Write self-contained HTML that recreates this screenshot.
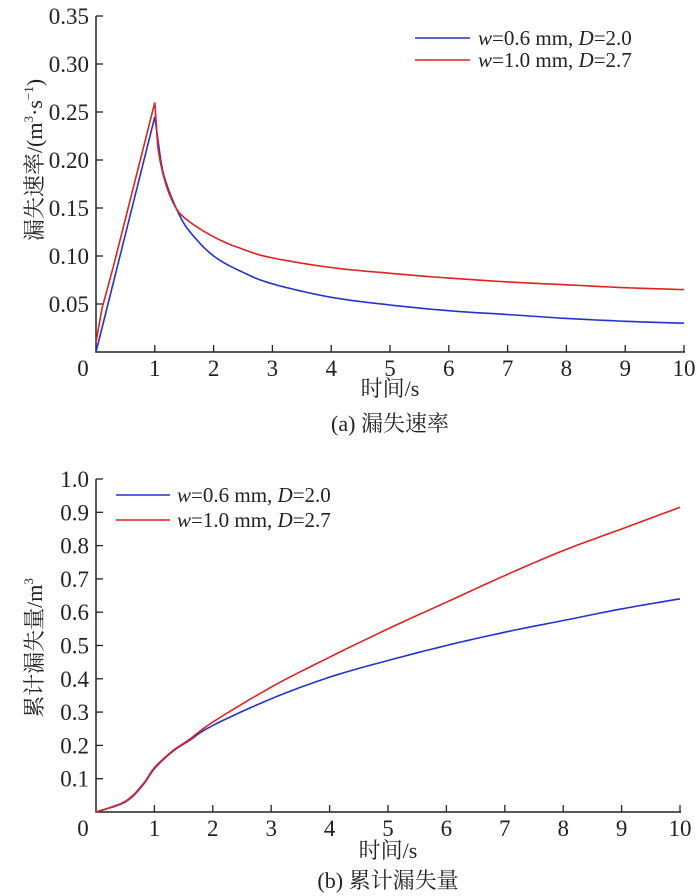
<!DOCTYPE html>
<html><head><meta charset="utf-8"><style>
body{margin:0;background:#fff}
svg{display:block}
text{font-family:"Liberation Serif","Noto Serif CJK SC",serif;font-size:22px;fill:#222}
.tk{font-size:23px}
.lg{font-size:21px}
</style></head><body>
<svg id="s" width="700" height="896" xmlns="http://www.w3.org/2000/svg">
<g stroke="#222" stroke-width="1.5" fill="none">
<path d="M96,16 V352 H685"/>
<path d="M96,479 V812 H681"/>
</g>
<g id="ticks" stroke="#222" stroke-width="1.3"></g>
<g id="labels"></g>
<g fill="none" stroke-width="1.6">
<path id="b1" stroke="#2233cc"/><path id="r1" stroke="#dd2222"/>
<path id="b2" stroke="#2233cc"/><path id="r2" stroke="#dd2222"/>
</g>
<line x1="415" y1="38" x2="470" y2="38" stroke="#2233cc" stroke-width="1.6"/>
<line x1="415" y1="60" x2="470" y2="60" stroke="#dd2222" stroke-width="1.6"/>
<text class="lg" x="478" y="45"><tspan font-style="italic">w</tspan>=0.6 mm, <tspan font-style="italic">D</tspan>=2.0</text>
<text class="lg" x="478" y="67"><tspan font-style="italic">w</tspan>=1.0 mm, <tspan font-style="italic">D</tspan>=2.7</text>
<line x1="116" y1="495" x2="170" y2="495" stroke="#2233cc" stroke-width="1.6"/>
<line x1="116" y1="520" x2="170" y2="520" stroke="#dd2222" stroke-width="1.6"/>
<text class="lg" x="177" y="502"><tspan font-style="italic">w</tspan>=0.6 mm, <tspan font-style="italic">D</tspan>=2.0</text>
<text class="lg" x="177" y="527"><tspan font-style="italic">w</tspan>=1.0 mm, <tspan font-style="italic">D</tspan>=2.7</text>
<text x="390" y="396" text-anchor="middle">时间/s</text>
<text x="390" y="431" text-anchor="middle">(a) 漏失速率</text>
<text x="388" y="858" text-anchor="middle">时间/s</text>
<text x="388" y="888" text-anchor="middle">(b) 累计漏失量</text>
<text transform="translate(42,160) rotate(-90)" text-anchor="middle">漏失速率/(m<tspan font-size="13" dy="-9">3</tspan><tspan dy="9">·s</tspan><tspan font-size="13" dy="-9">−1</tspan><tspan dy="9">)</tspan></text>
<text transform="translate(42,648) rotate(-90)" text-anchor="middle">累计漏失量/m<tspan font-size="13" dy="-9">3</tspan></text>
</svg>
<script>
var NS="http://www.w3.org/2000/svg";
function el(p,t,a,txt){var e=document.createElementNS(NS,t);for(var k in a)e.setAttribute(k,a[k]);if(txt!==undefined)e.textContent=txt;document.getElementById(p).appendChild(e);}
var X1=function(t){return 96+t*58.8},Y1=function(v){return 352-v*960};
var X2=function(t){return 96+t*58.4},Y2=function(v){return 812-v*333};
for(var i=1;i<=10;i++){el("ticks","line",{x1:X1(i),x2:X1(i),y1:352,y2:345});el("labels","text",{"class":"tk",x:X1(i),y:376,"text-anchor":"middle"},i);
el("ticks","line",{x1:X2(i),x2:X2(i),y1:812,y2:805});el("labels","text",{"class":"tk",x:X2(i),y:836,"text-anchor":"middle"},i);}
el("labels","text",{"class":"tk",x:83,y:376,"text-anchor":"middle"},0);
el("labels","text",{"class":"tk",x:83,y:836,"text-anchor":"middle"},0);
for(var i=1;i<=7;i++){var v=i*0.05;el("ticks","line",{x1:96,x2:103,y1:Y1(v),y2:Y1(v)});el("labels","text",{"class":"tk",x:89,y:Y1(v)+8,"text-anchor":"end"},v.toFixed(2));}
for(var i=1;i<=10;i++){var v=i*0.1;el("ticks","line",{x1:96,x2:103,y1:Y2(v),y2:Y2(v)});el("labels","text",{"class":"tk",x:89,y:Y2(v)+8,"text-anchor":"end"},v.toFixed(1));}
function path(id,pts,X,Y){var d="";for(var i=0;i<pts.length-1;i++){var p0=pts[Math.max(i-1,0)],p1=pts[i],p2=pts[i+1],p3=pts[Math.min(i+2,pts.length-1)];
if(i==0)d+="M"+X(p1[0]).toFixed(1)+","+Y(p1[1]).toFixed(1);
if(p1[2]||p2[2]){d+="L"+X(p2[0]).toFixed(1)+","+Y(p2[1]).toFixed(1);continue;}
for(var s=1;s<=8;s++){var t=s/8,t2=t*t,t3=t2*t;var f=function(a,b,c,e){return 0.5*(2*b+(-a+c)*t+(2*a-5*b+4*c-e)*t2+(-a+3*b-3*c+e)*t3)};
d+="L"+X(f(p0[0],p1[0],p2[0],p3[0])).toFixed(1)+","+Y(f(p0[1],p1[1],p2[1],p3[1])).toFixed(1);}}
document.getElementById(id).setAttribute("d",d);}
path("b1",[[0,0,1],[1,0.245,1],[1.1,0.2],[1.2,0.175],[1.4,0.145],[1.6,0.125],[2,0.1],[2.5,0.083],[3,0.071],[4,0.057],[5,0.049],[6,0.043],[7,0.039],[8,0.035],[9,0.032],[10,0.03]],X1,Y1);
path("r1",[[0,0.01,1],[0.1,0.045,1],[0.3,0.09,1],[1,0.26,1],[1.05,0.215],[1.15,0.183],[1.3,0.157],[1.5,0.14],[2,0.12],[2.5,0.107],[3,0.098],[4,0.088],[5,0.082],[6,0.077],[7,0.073],[8,0.07],[9,0.067],[10,0.065]],X1,Y1);
path("b2",[[0,0],[0.5,0.03],[0.8,0.08],[1,0.13],[1.3,0.18],[1.6,0.215],[2,0.26],[3,0.34],[4,0.405],[5,0.455],[6,0.5],[7,0.54],[8,0.575],[9,0.61],[10,0.64]],X2,Y2);
path("r2",[[0,0],[0.5,0.032],[0.8,0.083],[1,0.133],[1.3,0.182],[1.6,0.218],[2,0.27],[3,0.375],[4,0.465],[5,0.55],[6,0.63],[7,0.71],[8,0.785],[9,0.85],[10,0.915]],X2,Y2);
</script>
</body></html>
